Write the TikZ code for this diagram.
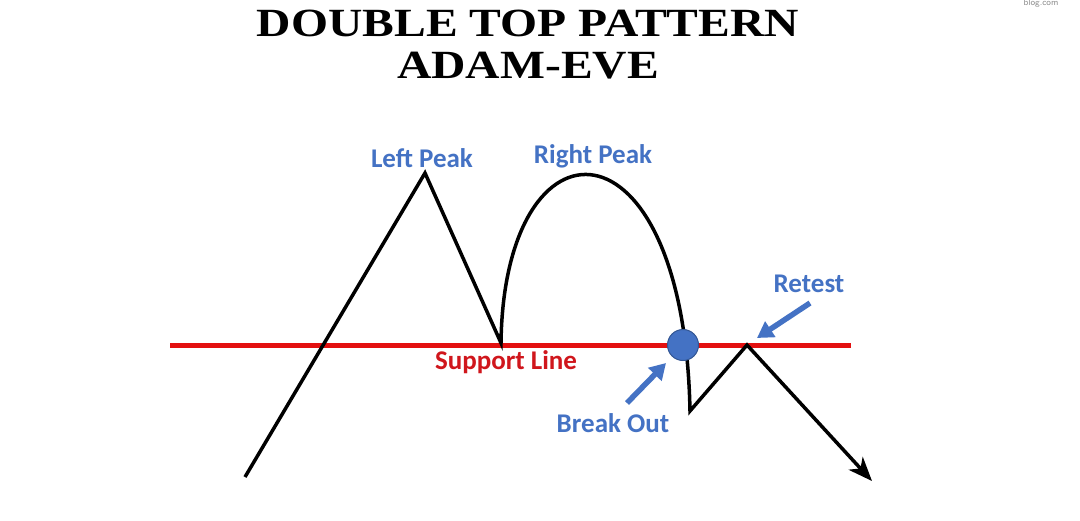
\documentclass[tikz,border=0pt]{standalone}
\usepackage{fontspec}
\setmainfont{Liberation Serif}
\newfontfamily\labelfont{Carlito}
\usetikzlibrary{arrows.meta}
\definecolor{lblblue}{HTML}{4472C4}
\definecolor{suppred}{HTML}{E31010}
\definecolor{textred}{HTML}{D0161C}

\begin{document}
\begin{tikzpicture}[x=1pt, y=-1pt,
  lbl/.style={font=\labelfont\bfseries\fontsize{27}{30}\selectfont, text=lblblue, inner sep=0pt},
  pointer/.style={-{Triangle[length=16pt, width=18pt]}, lblblue, line width=5.5pt}]
  \useasboundingbox[fill=white] (0,0) rectangle (1080,520);
  \node[font=\bfseries\fontsize{40}{44}\selectfont, xscale=1.19] at (528,23) (title1) {DOUBLE TOP PATTERN};
  \node[font=\bfseries\fontsize{40}{44}\selectfont, xscale=1.19] at (528,66) (title2) {ADAM-EVE};
  \node[font=\sffamily\fontsize{9}{10}\selectfont, text=black!45] at (1041,3) (mark) {blog.com};
  \draw[suppred, line width=5pt] (170,345) -- (851,345);
  \draw[line width=3.5pt, line join=miter, -{Stealth[length=24pt, width=19pt, inset=7pt]}]
    (245,477) -- (425,173) -- (501,343)
    .. controls (504,108) and (684,108) .. (690,411)
    -- (747,345) -- (872,481);
  \node[circle, fill=lblblue, draw=lblblue!75!black, line width=1pt, minimum size=31pt, inner sep=0pt] at (683,345) (brk) {};
  \node[lbl] at (422,158) (lpeak) {Left Peak};
  \node[lbl] at (593,156) (rpeak) {Right Peak};
  \node[lbl] at (809,284) (retest) {Retest};
  \node[lbl] at (613,423) (breakout) {Break Out};
  \node[lbl, text=textred] at (506,362) (support) {Support Line};
  \coordinate (bo tail) at (627,403);
  \coordinate (bo tip) at (666,363);
  \coordinate (rt tail) at (810,303);
  \coordinate (rt tip) at (757,338);
  \draw[pointer] (bo tail) -- (bo tip);
  \draw[pointer] (rt tail) -- (rt tip);
  %\draw[red] (0,0) grid[step=50] (1080,520);
\end{tikzpicture}
\end{document}
